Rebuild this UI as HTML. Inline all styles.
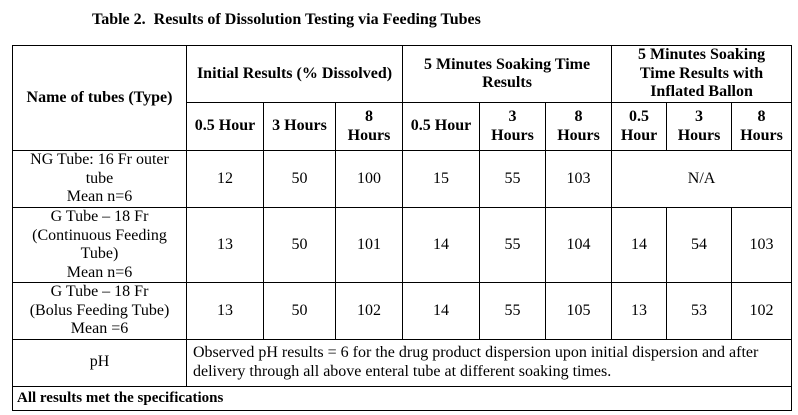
<!DOCTYPE html>
<html><head><meta charset="utf-8"><style>
body{margin:0;width:798px;height:415px;background:#fff;position:relative;font-family:"Liberation Serif",serif;color:#000;font-size:16px;overflow:hidden}
.t{position:absolute;left:92px;top:11px;font-weight:bold;font-size:16px}
table{position:absolute;left:12px;top:45px;border-collapse:collapse;table-layout:fixed;width:779px}
td{border:1px solid #000;text-align:center;vertical-align:middle;padding:0 5px;line-height:18.5px;overflow:hidden}
.b{font-weight:bold}
.l{text-align:left;padding-left:6px;padding-right:20px}
</style></head><body>
<div class="t">Table 2.&nbsp; Results of Dissolution Testing via Feeding Tubes</div>
<table>
<colgroup><col style="width:174px"><col style="width:77px"><col style="width:72px"><col style="width:67px"><col style="width:77px"><col style="width:66px"><col style="width:66px"><col style="width:55px"><col style="width:65px"><col style="width:60px"></colgroup>
<tr style="height:57px"><td rowspan="2" class="b">Name of tubes (Type)</td><td colspan="3" class="b">Initial Results (% Dissolved)</td><td colspan="3" class="b">5 Minutes Soaking Time Results</td><td colspan="3" class="b" style="padding:0 14px">5 Minutes Soaking Time Results with Inflated Ballon</td></tr>
<tr style="height:48px"><td class="b" style="padding:0 2px">0.5 Hour</td><td class="b" style="padding:0 2px">3 Hours</td><td class="b">8<br>Hours</td><td class="b" style="padding:0 2px">0.5 Hour</td><td class="b">3<br>Hours</td><td class="b">8<br>Hours</td><td class="b">0.5<br>Hour</td><td class="b">3<br>Hours</td><td class="b" style="padding:0 2px">8<br>Hours</td></tr>
<tr style="height:57px"><td>NG Tube: 16 Fr outer tube<br>Mean n=6</td><td>12</td><td>50</td><td>100</td><td>15</td><td>55</td><td>103</td><td colspan="3">N/A</td></tr>
<tr style="height:75px"><td>G Tube – 18 Fr<br>(Continuous Feeding Tube)<br>Mean n=6</td><td>13</td><td>50</td><td>101</td><td>14</td><td>55</td><td>104</td><td>14</td><td>54</td><td>103</td></tr>
<tr style="height:55px"><td>G Tube – 18 Fr<br>(Bolus Feeding Tube)<br>Mean =6</td><td>13</td><td>50</td><td>102</td><td>14</td><td>55</td><td>105</td><td>13</td><td>53</td><td>102</td></tr>
<tr style="height:47px"><td>pH</td><td colspan="9" class="l">Observed pH results = 6 for the drug product dispersion upon initial dispersion and after delivery through all above enteral tube at different soaking times.</td></tr>
<tr style="height:24px"><td colspan="10" class="b l" style="padding-left:4px;font-size:15px">All results met the specifications</td></tr>
</table>
</body></html>
